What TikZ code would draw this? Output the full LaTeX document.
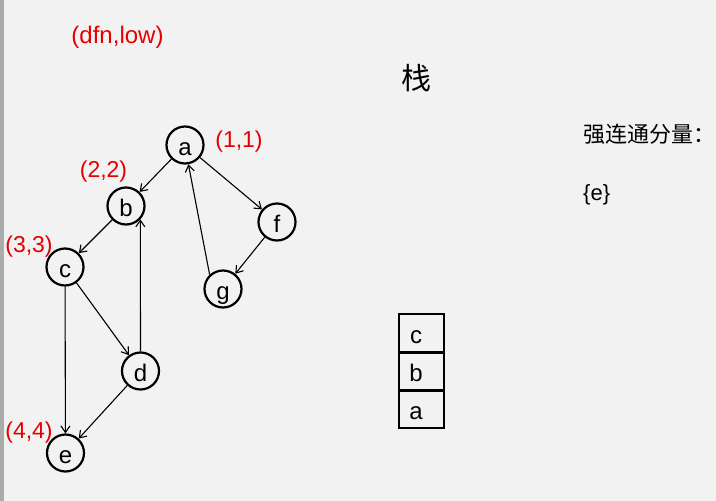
\documentclass[tikz,border=0pt]{standalone}
\usepackage{fontspec}
\setmainfont{Liberation Sans}
\newfontfamily\cjk{Noto Sans CJK SC}
\usetikzlibrary{arrows.meta}
\definecolor{bg}{HTML}{F2F2F2}
\definecolor{lbl}{HTML}{E60000}
\definecolor{strip}{HTML}{ABABAB}
\begin{document}
\begin{tikzpicture}[x=1pt,y=-1pt,
  vtx/.style={circle,draw,line width=2.2pt,minimum size=37pt,inner sep=0pt,
    font=\fontsize{24}{24}\selectfont,text height=20pt,text depth=0pt},
  lab/.style={text=lbl,inner sep=0pt,font=\fontsize{23}{23}\selectfont},
  edge/.style={line width=1.1pt,-{Straight Barb[length=6.5pt,width=9pt]}},
  cell/.style={draw,line width=1.1pt,minimum width=45pt,minimum height=38pt,inner sep=0pt},
  celltxt/.style={inner sep=0pt,font=\fontsize{24}{24}\selectfont,text height=20pt,text depth=0pt},
  sep/.style={line width=2.2pt},
  plain/.style={inner sep=0pt,font=\fontsize{22}{22}\selectfont}
 ]
\fill[bg] (0,0) rectangle (716,501);
\fill[strip] (0,0) rectangle (3.5,501);
\useasboundingbox (0,0) rectangle (716,501);

% labels
\node[lab,font=\fontsize{24}{24}\selectfont] (dfnlow) at (117.5,37) {(dfn,low)};
\node[lab] (l11) at (239,141.5) {(1,1)};
\node[lab] (l22) at (103.5,172) {(2,2)};
\node[lab] (l33) at (29,247) {(3,3)};
\node[lab] (l44) at (29,433) {(4,4)};

% vertices
\node[vtx] (a) at (185,145) {a};
\node[vtx] (b) at (126,206) {b};
\node[vtx] (c) at (65,267) {c};
\node[vtx] (d) at (140.5,371) {d};
\node[vtx] (e) at (65.5,453) {e};
\node[vtx] (f) at (277,222) {f};
\node[vtx] (g) at (223,289) {g};

% edges
\draw[edge] (a) -- (b);
\draw[edge] (a) -- (f);
\draw[edge] (b) -- (c);
\draw[edge] (c) -- (d);
\draw[edge] (c) -- (e);
\draw[edge] (d) -- (e);
\draw[edge] (d.north) -- (b.-43);
\draw[edge] (f) -- (g);
\draw[edge] (g.133) -- (a.-80);

% stack
\node (zhan) at (416,78) {\cjk\fontsize{30}{30}\selectfont 栈};
\node[cell] (sc) at (421.5,333) {};
\node[cell] (sb) at (421.5,371) {};
\node[cell] (sa) at (421.5,409) {};
\draw[sep] (sc.south west) -- (sc.south east);
\draw[sep] (sb.south west) -- (sb.south east);
\node[celltxt] (tc) at ([xshift=-5.5pt]sc.center) {c};
\node[celltxt] (tb) at ([xshift=-5.5pt]sb.center) {b};
\node[celltxt] (ta) at ([xshift=-5.5pt]sa.center) {a};

% strongly connected components
\node[plain,anchor=west] (scc) at (583,134) {\cjk\fontsize{22}{22}\selectfont 强连通分量：};
\node[plain,anchor=west] (set) at (583,195) {\{e\}};
\end{tikzpicture}
\end{document}
